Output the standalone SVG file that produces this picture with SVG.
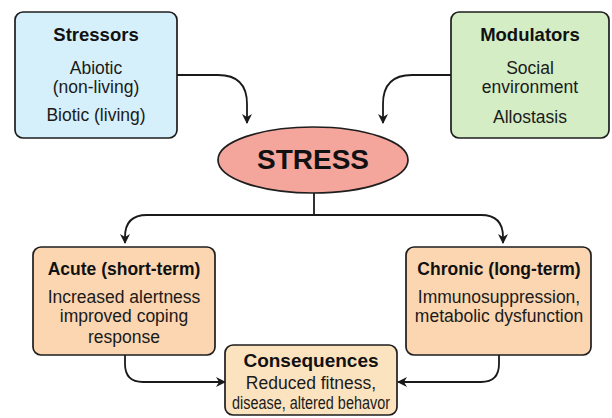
<svg xmlns="http://www.w3.org/2000/svg" width="612" height="418" viewBox="0 0 612 418">
<defs>
<marker id="ah" viewBox="0 0 10 10" refX="9" refY="5" markerWidth="10" markerHeight="10" markerUnits="userSpaceOnUse" orient="auto">
<path d="M0,0 L10,5 L0,10 L3,5 z" fill="#1a1a1a"/>
</marker>
<style>
.box{stroke:#1e1e1e;stroke-width:1.7}
.t{font-family:"Liberation Sans",Arial,sans-serif;font-weight:bold;fill:#111;text-anchor:middle}
.b{font-family:"Liberation Sans",Arial,sans-serif;fill:#1a1a1a;text-anchor:middle;font-size:17.5px}
.c{fill:none;stroke:#1a1a1a;stroke-width:1.8}
</style>
</defs>
<rect width="612" height="418" fill="#ffffff"/>
<g id="connectors">
<path class="c" d="M177,75 H218 Q247,75 247,104 V123" marker-end="url(#ah)"/>
<path class="c" d="M451,75 H412 Q383,75 383,104 V123" marker-end="url(#ah)"/>
<path class="c" d="M314,193 V215"/>
<path class="c" d="M314,215 H147 Q125,215 125,237 V243" marker-end="url(#ah)"/>
<path class="c" d="M314,215 H481 Q503,215 503,237 V243" marker-end="url(#ah)"/>
<path class="c" d="M125,355 V364 Q125,382 143,382 H225" marker-end="url(#ah)"/>
<path class="c" d="M499,355 V364 Q499,382 481,382 H398" marker-end="url(#ah)"/>
</g>
<g id="stressors">
<rect class="box" x="15" y="12" width="162" height="126" rx="8" fill="#d6f0fb"/>
<text class="t" x="96" y="41" font-size="18.5">Stressors</text>
<text class="b" x="96" y="74">Abiotic</text>
<text class="b" x="96" y="93">(non-living)</text>
<text class="b" x="96" y="121">Biotic (living)</text>
</g>
<g id="modulators">
<rect class="box" x="451" y="12" width="158" height="126" rx="8" fill="#d4edc4"/>
<text class="t" x="530" y="41" font-size="18.5">Modulators</text>
<text class="b" x="530" y="74">Social</text>
<text class="b" x="530" y="93">environment</text>
<text class="b" x="530" y="123">Allostasis</text>
</g>
<g id="stress">
<ellipse class="box" cx="313" cy="160" rx="95" ry="33" fill="#f5a69c"/>
<text class="t" x="313" y="169" font-size="28">STRESS</text>
</g>
<g id="acute">
<rect class="box" x="33" y="247" width="182" height="108" rx="8" fill="#fbd6b1"/>
<text class="t" x="124" y="275" font-size="17.5">Acute (short-term)</text>
<text class="b" x="124" y="303">Increased alertness</text>
<text class="b" x="124" y="322">improved coping</text>
<text class="b" x="124" y="343">response</text>
</g>
<g id="chronic">
<rect class="box" x="406" y="247" width="185" height="108" rx="8" fill="#fbd6b1"/>
<text class="t" x="499" y="275" font-size="17.5">Chronic (long-term)</text>
<text class="b" x="499" y="303">Immunosuppression,</text>
<text class="b" x="499" y="322">metabolic dysfunction</text>
</g>
<g id="consequences">
<rect class="box" x="225" y="345" width="172" height="70" rx="8" fill="#fce3bf"/>
<text class="t" x="311" y="367" font-size="19">Consequences</text>
<text class="b" x="311" y="389" font-size="14.5">Reduced fitness,</text>
<text class="b" x="311" y="409" font-size="14" textLength="158" lengthAdjust="spacingAndGlyphs">disease, altered behavor</text>
</g>
</svg>
